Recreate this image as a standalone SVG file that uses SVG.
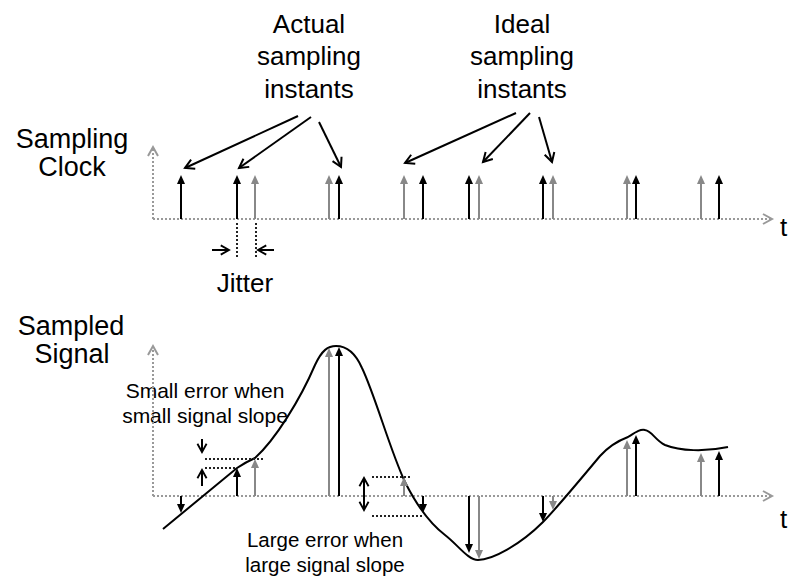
<svg xmlns="http://www.w3.org/2000/svg" width="789" height="579" viewBox="0 0 789 579">
<defs>
<style>
.t{font-family:"Liberation Sans",Arial,sans-serif;fill:#000;text-anchor:middle}
.st{text-anchor:start}
.big{font-size:26px}
.mid{font-size:27px}
.sm{font-size:21px}
.ax{stroke:#999;stroke-width:2;stroke-dasharray:2 2;fill:none}
.dk{stroke:#222;stroke-width:2;stroke-dasharray:2 2;fill:none}
.sb{stroke:#000;stroke-width:2;fill:none}
.sg{stroke:#888;stroke-width:2;fill:none}
.pt{stroke:#000;stroke-width:2;fill:none}
</style>
<marker id="hb" viewBox="0 0 9 8" refX="4" refY="4" markerWidth="9" markerHeight="8" orient="auto" markerUnits="userSpaceOnUse"><path d="M0,0 L9,4 L0,8 z" fill="#000"/></marker>
<marker id="hg" viewBox="0 0 9 8" refX="4" refY="4" markerWidth="9" markerHeight="8" orient="auto" markerUnits="userSpaceOnUse"><path d="M0,0 L9,4 L0,8 z" fill="#888"/></marker>
<marker id="ob" viewBox="0 0 12 12" refX="10" refY="6" markerWidth="12" markerHeight="12" orient="auto" markerUnits="userSpaceOnUse" overflow="visible"><path d="M1,1 L10,6 L1,11" fill="none" stroke="#000" stroke-width="2"/></marker>
<marker id="obs" viewBox="0 0 12 12" refX="10" refY="6" markerWidth="11" markerHeight="11" orient="auto-start-reverse" markerUnits="userSpaceOnUse" overflow="visible"><path d="M1,1 L10,6 L1,11" fill="none" stroke="#000" stroke-width="2"/></marker>
<marker id="og" viewBox="0 0 12 12" refX="10" refY="6" markerWidth="12" markerHeight="12" orient="auto" markerUnits="userSpaceOnUse" overflow="visible"><path d="M1,1 L10,6 L1,11" fill="none" stroke="#999" stroke-width="2"/></marker>
</defs>
<rect width="789" height="579" fill="#fff"/>

<g id="labels">
<text class="t big" x="309" y="33">Actual</text>
<text class="t big" x="309" y="65">sampling</text>
<text class="t big" x="309" y="98">instants</text>
<text class="t big" x="522" y="33">Ideal</text>
<text class="t big" x="522" y="65">sampling</text>
<text class="t big" x="522" y="98">instants</text>
<text class="t mid" x="72" y="148">Sampling</text>
<text class="t mid" x="72" y="176">Clock</text>
<text class="t mid" x="71" y="335">Sampled</text>
<text class="t mid" x="72" y="363">Signal</text>
<text class="t big" x="245" y="292">Jitter</text>
<text class="t big st" x="780" y="236">t</text>
<text class="t big st" x="780" y="528">t</text>
<text class="t sm" x="205" y="398">Small error when</text>
<text class="t sm" x="205" y="423">small signal slope</text>
<text class="t" style="font-size:20.5px" x="325" y="547">Large error when</text>
<text class="t" style="font-size:20.5px" x="325" y="572">large signal slope</text>
</g>

<g id="clock">
<path class="ax" d="M153,219 H772" marker-end="url(#og)"/>
<path class="ax" d="M153,219 V147" marker-end="url(#og)"/>
<g class="sg" marker-end="url(#hg)">
<path d="M255,219 V180"/><path d="M329,219 V180"/><path d="M404,219 V180"/><path d="M479,219 V180"/>
<path d="M553,219 V180"/><path d="M627,219 V180"/><path d="M701,219 V180"/>
</g>
<g class="sb" marker-end="url(#hb)">
<path d="M181,219 V180"/><path d="M237,219 V180"/><path d="M339,219 V180"/><path d="M423,219 V180"/>
<path d="M469,219 V180"/><path d="M543,219 V180"/><path d="M636,219 V180"/><path d="M719,219 V180"/>
</g>
<path class="dk" d="M237,223 V258 M256,223 V258"/>
<path class="pt" d="M212,250 H229" marker-end="url(#obs)"/>
<path class="pt" d="M274,250 H258" marker-end="url(#obs)"/>
</g>

<g id="signal">
<path class="ax" d="M153,496 H772" marker-end="url(#og)"/>
<path class="ax" d="M153,496 V346" marker-end="url(#og)"/>
<path class="sb" d="M163,529 L237,468 Q246,462 255,458 C275,440 300,400 315,365 C322,350 328,346 336,346 C346,346 355,352 362,368 C375,395 390,450 405,482 C415,502 428,522 445,535 C458,545 468,560 478,560 C492,560 520,545 543,522 C555,510 580,480 600,456 C610,445 620,440 628,437 C636,432 640,429 645,430 C652,431 655,440 665,445 C680,451 705,452 728,447"/>
<g class="sg" marker-end="url(#hg)">
<path d="M255,496 V464"/><path d="M329,496 V353"/><path d="M404,496 V482"/>
<path d="M479,496 V554"/><path d="M553,496 V505"/>
<path d="M627,496 V445"/><path d="M701,496 V458"/>
</g>
<g class="sb" marker-end="url(#hb)">
<path d="M181,496 V508"/><path d="M237,496 V473"/><path d="M339,496 V352"/><path d="M423,496 V508"/>
<path d="M469,496 V548"/><path d="M543,496 V517"/><path d="M636,496 V440"/><path d="M719,496 V456"/>
</g>
<path class="dk" d="M205,459 H263 M205,468 H237"/>
<path class="dk" d="M372,477 H412 M372,516 H422"/>
<path class="pt" d="M202,439 V452" marker-end="url(#obs)"/>
<path class="pt" d="M202,486 V470" marker-end="url(#obs)"/>
<path class="pt" d="M364,478 V510" marker-start="url(#obs)" marker-end="url(#obs)"/>
</g>

<g id="connectors">
<path class="pt" d="M298,116 L185,168" marker-end="url(#ob)"/>
<path class="pt" d="M311,117 L239,168" marker-end="url(#ob)"/>
<path class="pt" d="M319,122 L341,167" marker-end="url(#ob)"/>
<path class="pt" d="M516,113 L405,163" marker-end="url(#ob)"/>
<path class="pt" d="M530,113 L483,162" marker-end="url(#ob)"/>
<path class="pt" d="M539,117 L552,162" marker-end="url(#ob)"/>
</g>
</svg>
